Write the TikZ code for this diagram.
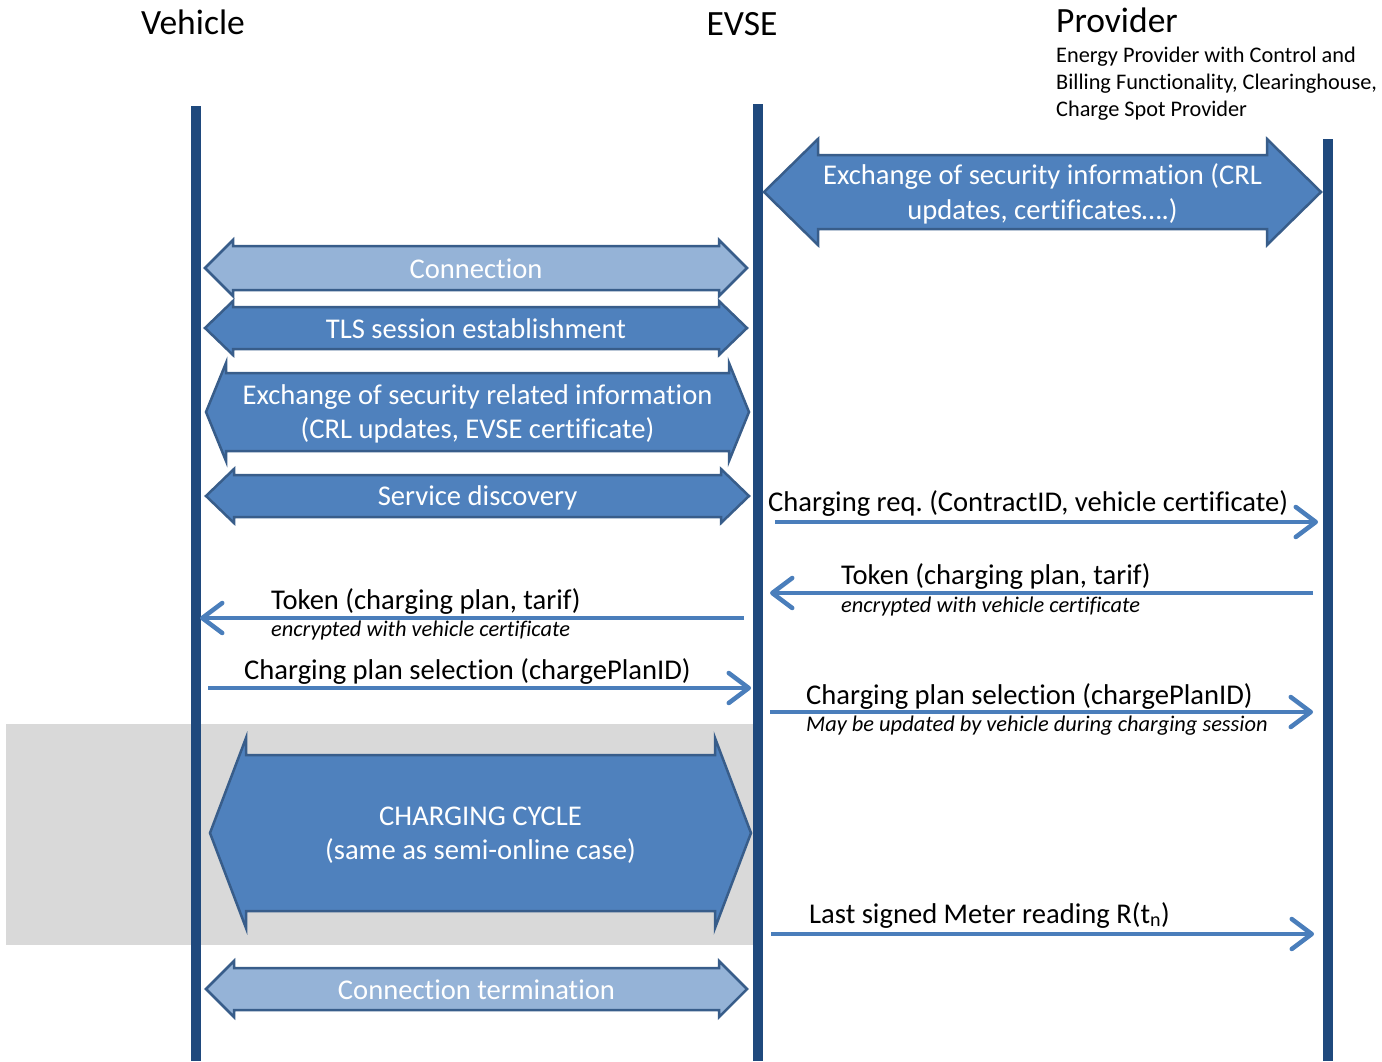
\documentclass[tikz,border=0pt]{standalone}
\usepackage{fontspec}
\setmainfont{Carlito}[Ligatures=NoCommon]
\usetikzlibrary{arrows.meta}
\frenchspacing

\definecolor{lifeblue}{HTML}{1F497D}
\definecolor{blockfill}{HTML}{4F81BD}
\definecolor{blockedge}{HTML}{385D8A}
\definecolor{lightfill}{HTML}{95B3D7}
\definecolor{msgblue}{HTML}{4A7EBB}
\definecolor{phasegray}{HTML}{D9D9D9}

% Double-headed block arrow:
% #1 centre name, #2 style, #3 left tip x, #4 right tip x, #5 centre y,
% #6 half body height, #7 half head height, #8 head length
\newcommand\blockarrow[8]{%
  \draw[#2] (#3,#5) -- (#3+#8,#5-#7) -- (#3+#8,#5-#6) -- (#4-#8,#5-#6)
    -- (#4-#8,#5-#7) -- (#4,#5) -- (#4-#8,#5+#7) -- (#4-#8,#5+#6)
    -- (#3+#8,#5+#6) -- (#3+#8,#5+#7) -- cycle;
  \coordinate (#1) at ({(#3+#4)/2},#5);
}

\tikzset{
  lifeline/.style={draw=lifeblue, line width=10pt},
  darkblock/.style={fill=blockfill, draw=blockedge, line width=2.5pt, line join=miter},
  lightblock/.style={fill=lightfill, draw=blockedge, line width=2.5pt, line join=miter},
  blocktext/.style={text=white, inner sep=0pt, align=center, yshift=-2pt, font=\fontsize{28.6}{34.5}\selectfont},
  onelinetext/.style={blocktext, yshift=1pt},
  msg/.style={draw=msgblue, line width=4.5pt, -{Straight Barb[length=20pt,width=30pt,round]}},
  msglabel/.style={anchor=base west, inner sep=0pt, font=\fontsize{28.6}{34}\selectfont},
  note/.style={anchor=base west, inner sep=0pt, font=\fontsize{22.4}{27}\selectfont\itshape},
  title/.style={anchor=base, inner sep=0pt, font=\fontsize{35.5}{42}\selectfont},
  subtitle/.style={anchor=north west, inner sep=0pt, align=left, font=\fontsize{22.3}{27}\selectfont},
}

\begin{document}
\begin{tikzpicture}[x=1pt, y=-1pt]
\useasboundingbox (0,0) rectangle (1382,1061);

% shaded charging phase
\fill[phasegray] (6,724) rectangle (755,945);

% participants
\node[title] (tveh) at (193,34) {Vehicle};
\node[title] (tevse) at (742,35) {EVSE};
\node[title, anchor=base west] (tprov) at (1056,32) {Provider};
\node[subtitle] (tprovsub) at (1056,47) {Energy Provider with Control and\\Billing Functionality, Clearinghouse,\\Charge Spot Provider};

% lifelines
\coordinate (vtop) at (196,106);  \coordinate (vbot) at (196,1061);
\coordinate (etop) at (758,104);  \coordinate (ebot) at (758,1061);
\coordinate (ptop) at (1328,139); \coordinate (pbot) at (1328,1061);
\draw[lifeline] (vtop) -- (vbot);
\draw[lifeline] (etop) -- (ebot);
\draw[lifeline] (ptop) -- (pbot);

% block arrows
\blockarrow{secinfo}{darkblock}{764}{1321}{192}{37}{53}{54}
\node[blocktext] (secinfotxt) at (secinfo) {Exchange of security information (CRL\\updates, certificates….)};

\blockarrow{conn}{lightblock}{205}{747}{268}{22}{28}{28}
\node[onelinetext] (conntxt) at (conn) {Connection};

\blockarrow{tls}{darkblock}{205}{747}{328}{21}{27}{28}
\node[onelinetext] (tlstxt) at (tls) {TLS session establishment};

\blockarrow{secrel}{darkblock}{206}{749}{412}{39}{49}{20}
\node[blocktext] (secreltxt) at (secrel) {Exchange of security related information\\(CRL updates, EVSE certificate)};

\blockarrow{disc}{darkblock}{206}{749}{496}{21}{27}{28}
\node[blocktext] (disctxt) at (disc) {Service discovery};

\blockarrow{cycle}{darkblock}{210}{751}{833}{78}{95}{36}
\node[blocktext] (cycletxt) at (cycle) {CHARGING CYCLE\\(same as semi-online case)};

\blockarrow{term}{lightblock}{206}{747}{989}{21}{28}{28}
\node[onelinetext] (termtxt) at (term) {Connection termination};

% messages
\coordinate (m1a) at (775,522);  \coordinate (m1b) at (1318,522);
\coordinate (m2a) at (1313,593); \coordinate (m2b) at (770,593);
\coordinate (m3a) at (744,618);  \coordinate (m3b) at (200,618);
\coordinate (m4a) at (208,688);  \coordinate (m4b) at (751,688);
\coordinate (m5a) at (770,712);  \coordinate (m5b) at (1313,712);
\coordinate (m6a) at (771,934);  \coordinate (m6b) at (1314,934);

\draw[msg] (m1a) -- (m1b);
\draw[msg] (m2a) -- (m2b);
\draw[msg] (m3a) -- (m3b);
\draw[msg] (m4a) -- (m4b);
\draw[msg] (m5a) -- (m5b);
\draw[msg] (m6a) -- (m6b);

\node[msglabel] (l1) at (768,511) {Charging req. (ContractID, vehicle certificate)};
\node[msglabel] (l2) at (841,584) {Token (charging plan, tarif)};
\node[note] (n2) at (841,612) {encrypted with vehicle certificate};
\node[msglabel] (l3) at (271,609) {Token (charging plan, tarif)};
\node[note] (n3) at (271,636) {encrypted with vehicle certificate};
\node[msglabel] (l4) at (244,679) {Charging plan selection (chargePlanID)};
\node[msglabel] (l5) at (806,704) {Charging plan selection (chargePlanID)};
\node[note] (n5) at (806,731) {May be updated by vehicle during charging session};
\node[msglabel] (l6) at (809,923) {Last signed Meter reading R(t\textsubscript{n})};

\end{tikzpicture}
\end{document}
